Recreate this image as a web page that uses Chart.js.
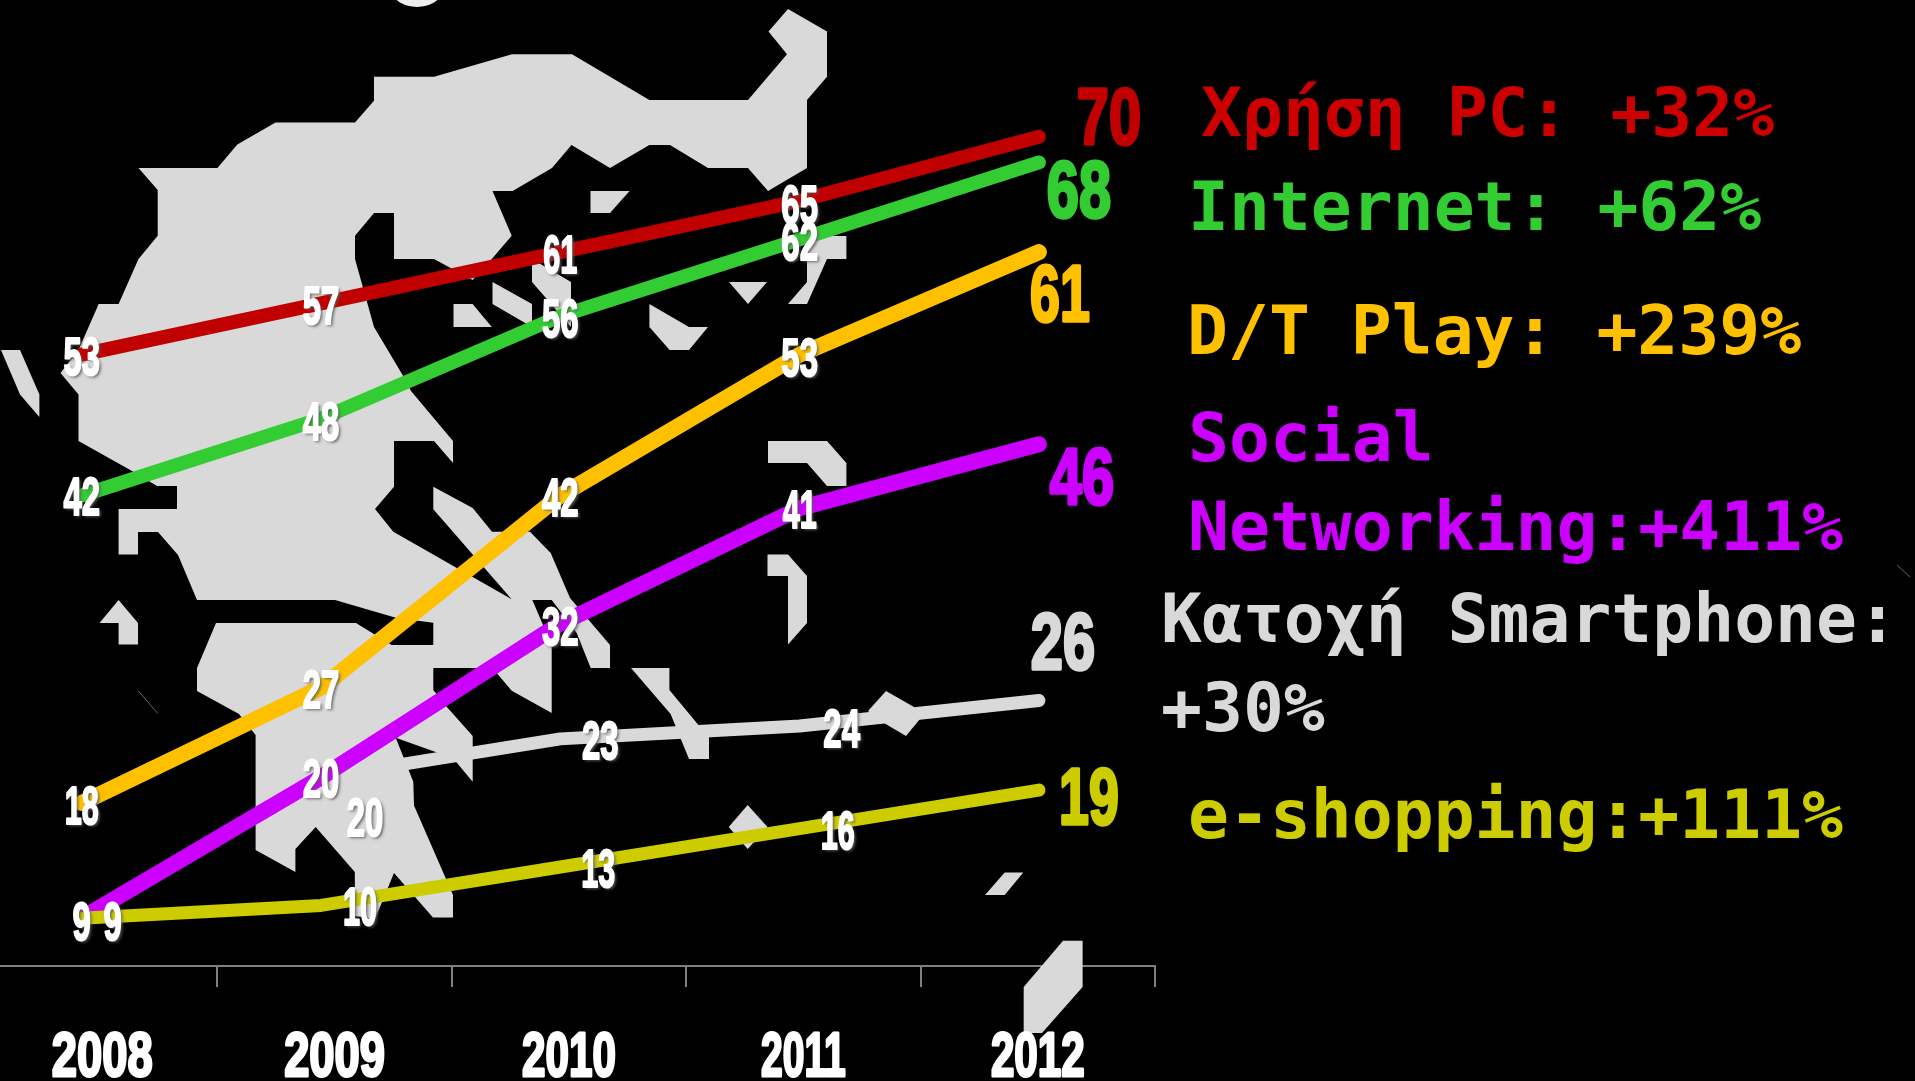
<!DOCTYPE html>
<html><head><meta charset="utf-8">
<style>html,body{margin:0;padding:0;background:#000;overflow:hidden;width:1915px;height:1081px}
canvas{position:absolute;left:-30px;top:0}</style>
<script src="https://cdn.jsdelivr.net/npm/chart.js@4"></script>
</head><body>
<canvas id="c" width="1945" height="1081"></canvas>
<script>
const years = ['2008','2009','2010','2011','2012'];
const xValues = [2008,2009,2010,2011,2012];
const pcUse = [53,57,61,65,70];
const internet = [42,48,56,62,68];
const dtPlay = [18,27,42,53,61];
const social = [9,20,32,41,46];
const smartphone = [null,20,23,24,26];
const eShopping = [9,10,13,16,19];

const legendLines = [
  ['Χρήση PC: +32%','#CC0000',1201,136],
  ['Internet: +62%','#33CC33',1188,230],
  ['D/T Play: +239%','#FFC000',1187,354],
  ['Social','#CC00FF',1188,461],
  ['Networking:+411%','#CC00FF',1188,550],
  ['Κατοχή Smartphone:','#D9D9D9',1161,642],
  ['+30%','#D9D9D9',1161,731],
  ['e-shopping:+111%','#CCCC00',1188,838]
];

// label nudges from the data point, px: [dx,dy] per point
const nudges = {
  pc:[[0,1],[0,2],[0,2],[0,3]],
  net:[[0,1],[0,2],[0,2],[0,2]],
  dt:[[0,2],[0,1],[0,2],[0,2]],
  soc:[[0,3],[0,1],[0,2],[0,1]],
  sm:[null,[44,40],[40,1],[42,2]],
  es:[[31,3],[39,1],[38,1],[38,1]]
};
const endNudges = {pc:[70,-21],net:[40,27],dt:[21,41],soc:[43,32],sm:[24,-59],es:[50,6]};
const seriesList = [
  {key:'pc',label:'Χρήση PC',values:pcUse,color:'#C00000',width:14},
  {key:'net',label:'Internet',values:internet,color:'#33CC33',width:14},
  {key:'dt',label:'D/T Play',values:dtPlay,color:'#FFC000',width:16},
  {key:'soc',label:'Social Networking',values:social,color:'#CC00FF',width:16},
  {key:'sm',label:'Κατοχή Smartphone',values:smartphone,color:'#D9D9D9',width:13},
  {key:'es',label:'e-shopping',values:eShopping,color:'#CCCC00',width:13}
];

// decorative backdrop silhouette, page pixels
const mapShapes = [
 [[138.5,168],[217.4,168],[237.3,144.6],[275.5,122.5],[355,122.5],[374,100.7],[374,76.8],[434,76.8],[512,54.3],[572,54.3],[649.4,100],[748,100],[787,54.3],[768.5,31.4],[788,9],[827,31.4],[827,76.8],[807,100],[807,168],[768,191],[748,168],[708,168],[670,145],[649.4,145],[610,168],[571.5,145],[552,168],[512.6,191],[492.5,191],[511.7,235.7],[491.8,259],[472.6,280],[434,259],[394,259],[394,213],[374,213],[355,235.7],[355,259],[374,327],[402.6,375],[411,391],[453,441],[453,463],[434,441],[394,441],[394,486.7],[375,509],[393.3,531.7],[511.7,599.3],[433.3,509.3],[433.3,486.7],[472.7,508],[492,531.7],[530,531.7],[550.7,553],[570,598],[610,645],[610,668],[590.7,668],[576.7,633],[551.7,600],[532.3,600],[551.7,645],[551.7,713],[511.7,690.7],[496.7,673],[476.7,668],[433.3,668],[433.3,690],[446.7,706.7],[472.7,736],[472.7,781.7],[456,761.7],[435,751.7],[395.7,737.7],[413.3,781.7],[414,805.5],[453,895],[453,917.6],[433,917.6],[394,873],[375,919],[355,916],[354.8,872],[315.7,827],[295.4,849],[295.4,872],[255.6,850],[255.6,735],[239,714],[197,691],[197,668],[216,623],[356,623],[391.7,645],[433.3,645],[433.3,622.7],[396.7,618],[335,600],[197,600],[178,555],[158,532],[138,532],[138,554.6],[118.6,554.6],[118.6,509],[177,509],[177,486],[157,486],[132,471],[78.5,441],[78.5,394.6],[60.5,373],[78.5,350],[98.7,304],[118.6,304],[138.5,259],[157.7,235.7],[157.7,190]],
 [[1,350],[20,350],[39.4,394.6],[39.4,417],[20,394.6]],
 [[118.6,600],[138,623],[138,644.5],[118.6,644.5],[118.6,623],[99.5,623]],
 [[453.5,304],[472.6,304],[491.8,327],[453.5,327]],
 [[492.5,282],[532,304],[532,327],[492.5,304]],
 [[532,259],[571,282],[571,327],[532,282]],
 [[590.5,191],[629.6,191],[610,213],[590.5,213]],
 [[807,236],[846.4,236],[846.4,259],[827,259],[807,304],[788,304],[807,282]],
 [[729,282],[767,282],[748,304]],
 [[649.4,304],[689,327],[708,327],[689,350],[669.6,350],[649.4,327]],
 [[768,441],[827,441],[846.4,463],[846.4,486],[827,486],[807,463],[768,463]],
 [[767.5,554.5],[788,554.5],[807,576],[807,623],[788,644.5],[788,576],[767.5,576]],
 [[631,668],[669.4,668],[669.4,690],[698,724.5],[709,736.5],[709,759],[689,759],[670.6,714]],
 [[886,691],[914,707],[920,719],[906,736],[884,723],[868,711]],
 [[747.7,805],[767.5,827],[747.7,849],[728.7,827]],
 [[1004.7,872.4],[1023.3,872.4],[1004.7,895],[985,895]],
 [[1063,940.7],[1082.6,940.7],[1082.6,987],[1042,1033],[1023.7,1033],[1023.7,987]]
];
const PAGE_SHIFT = 30;

function squeezed(ctx,text,cx,baseY,size,sx,color,stroke,shadow){
  const ones=(text.match(/1/g)||[]).length;
  sx=sx*(1-0.07*ones);
  ctx.save();
  ctx.font = 'bold '+size+'px "Liberation Sans"';
  ctx.textAlign='center'; ctx.textBaseline='alphabetic';
  if(shadow){ctx.shadowColor='rgba(90,90,90,0.9)';ctx.shadowBlur=3;ctx.shadowOffsetX=2;ctx.shadowOffsetY=2;}
  ctx.translate(cx,baseY); ctx.scale(sx,1);
  ctx.fillStyle=color; ctx.fillText(text,0,0);
  if(stroke){ctx.shadowColor='transparent';ctx.strokeStyle=color;ctx.lineWidth=stroke;ctx.lineJoin='round';ctx.strokeText(text,0,0);}
  ctx.restore();
}

const backdrop = {id:'backdrop',beforeDatasetsDraw(chart){
  const ctx=chart.ctx; ctx.save(); ctx.translate(PAGE_SHIFT,0);
  ctx.fillStyle='#D9D9D9';
  mapShapes.forEach(s=>{ctx.beginPath();s.forEach((p,i)=>i?ctx.lineTo(p[0],p[1]):ctx.moveTo(p[0],p[1]));ctx.closePath();ctx.fill();});
  ctx.beginPath();ctx.ellipse(417,-8,24,15,0,0,Math.PI*2);ctx.fillStyle='#EDEDED';ctx.fill();
  ctx.strokeStyle='#666';ctx.lineWidth=1;
  ctx.beginPath();ctx.moveTo(138.5,691);ctx.lineTo(157.7,713.4);ctx.moveTo(1897,565);ctx.lineTo(1910,577);ctx.stroke();
  ctx.restore();
}};

const texts = {id:'texts',afterDatasetsDraw(chart){
  const ctx=chart.ctx;
  seriesList.forEach((s,di)=>{
    const pts=chart.getDatasetMeta(di).data;
    s.values.forEach((v,i)=>{
      if(v===null) return;
      const p=pts[i];
      if(i<s.values.length-1){
        const n=nudges[s.key][i];
        squeezed(ctx,String(v),p.x+n[0],p.y+n[1]+19,53,0.62,'#FFFFFF',2,true);
      } else {
        const n=endNudges[s.key];
        squeezed(ctx,String(v),p.x+n[0],p.y+n[1]+28,79,0.73,s.color,3.5,false);
      }
    });
  });
  const xs=chart.scales.x2;
  years.forEach((y,i)=>squeezed(ctx,y,xs.getPixelForTick(i)+(i===0?2:0),1076,63,0.72,'#FFFFFF',3,false));
  ctx.save();
  ctx.font='bold 68px "DejaVu Sans Mono"';ctx.textAlign='left';ctx.textBaseline='alphabetic';
  legendLines.forEach(l=>{ctx.fillStyle=l[1];ctx.fillText(l[0],l[2]+PAGE_SHIFT,l[3]);});
  ctx.restore();
}};

new Chart(document.getElementById('c'),{
  type:'line',
  data:{
    labels:years,
    datasets:seriesList.map(s=>({
      label:s.label,
      data:s.values.map((v,i)=>({x:xValues[i],y:v})),
      borderColor:s.color,
      borderWidth:s.width,
      borderCapStyle:'round',
      borderJoinStyle:'round',
      tension:0,
      pointRadius:0,
      fill:false,
      spanGaps:false,
      xAxisID:'x',
      order:s.key==='es'?-1:0
    }))
  },
  options:{
    responsive:false,animation:false,
    layout:{padding:{left:13,right:760,top:0,bottom:94}},
    plugins:{legend:{display:false},tooltip:{enabled:false},title:{display:false}},
    scales:{
      x:{type:'linear',display:false,min:2007.5873,max:2012.485},
      x2:{type:'category',labels:years,position:'bottom',offset:true,
        border:{color:'#7F7F7F',width:2},
        grid:{offset:true,color:'#7F7F7F',lineWidth:2,drawOnChartArea:false,drawTicks:true,tickLength:21},
        ticks:{display:false}},
      y:{display:false,min:5.27,max:80.68}
    }
  },
  plugins:[backdrop,texts]
});
</script>
</body></html>
